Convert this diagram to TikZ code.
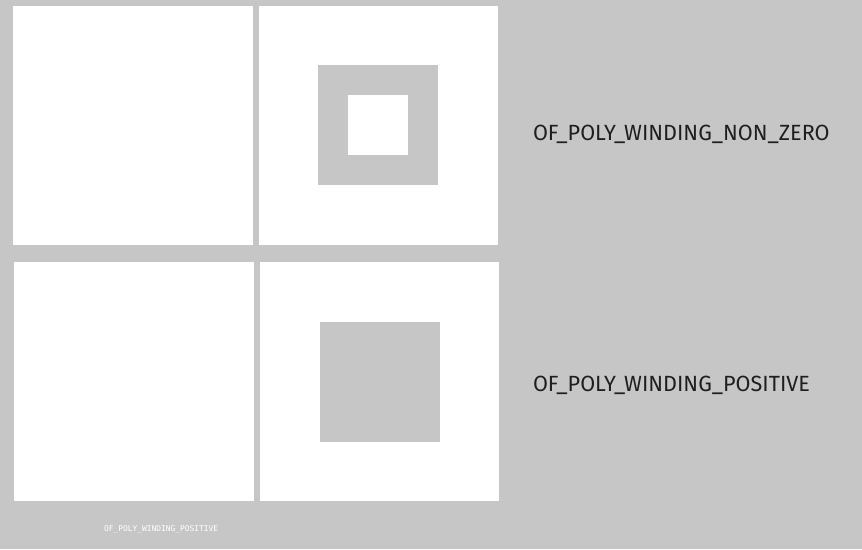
\documentclass[tikz,border=0pt]{standalone}
\usepackage{fontspec}
\setmainfont{Fira Sans}
\setmonofont{DejaVu Sans Mono}
\definecolor{bggray}{RGB}{198,198,198}
\definecolor{labelink}{RGB}{30,30,30}
\begin{document}
\begin{tikzpicture}[x=1pt, y=-1pt, every node/.style={inner sep=0pt, outer sep=0pt},
  modelabel/.style={anchor=base west, text=labelink, xscale=0.983, font=\fontsize{22}{26}\selectfont}]
\fill[bggray] (0, 0) rectangle (862, 549);
\useasboundingbox (0, 0) rectangle (862, 549);

\fill[white] (13, 6) rectangle (252.5, 244.5);
\fill[white] (259, 6) rectangle (497.5, 244.5);
\fill[bggray] (318, 65) rectangle (437.5, 184.5);
\fill[white] (348, 95) rectangle (407.5, 154.5);

\fill[white] (14, 262) rectangle (253.5, 500.5);
\fill[white] (260, 262) rectangle (499, 501);
\fill[bggray] (320, 322) rectangle (439.5, 441.5);

\node[modelabel] (nonzero) at (533, 140) {OF\_POLY\_WINDING\_NON\_ZERO};
\node[modelabel] (positive) at (533, 391) {OF\_POLY\_WINDING\_POSITIVE};

\node[anchor=base west, text=white, font=\ttfamily\fontsize{7.9}{9}\selectfont] (caption) at (104, 531) {OF\_POLY\_WINDING\_POSITIVE};
\end{tikzpicture}
\end{document}
